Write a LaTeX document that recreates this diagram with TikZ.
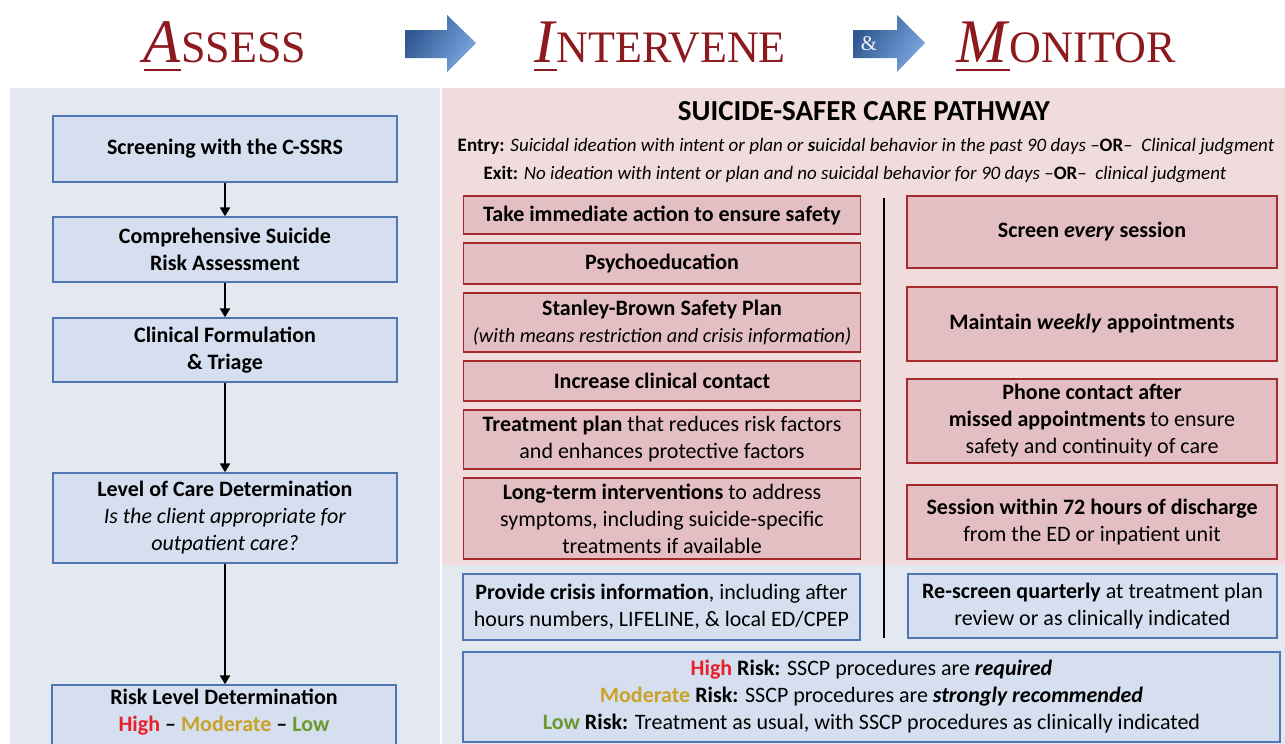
\documentclass[tikz,border=0pt]{standalone}
\usepackage{fontspec}
\setmainfont{Carlito}
\newfontfamily\hdr{Liberation Serif}
\usetikzlibrary{arrows.meta}
\definecolor{hdrred}{HTML}{8C1A1F}
\definecolor{bfill}{HTML}{D5DFEF}
\definecolor{bbord}{HTML}{4F77B3}
\definecolor{lpanel}{HTML}{E4E8F0}
\definecolor{ppanel}{HTML}{F1DCDD}
\definecolor{pfill}{HTML}{E3BEC2}
\definecolor{rbord}{HTML}{A52A2E}
\definecolor{arrdark}{HTML}{2F5690}
\definecolor{arrlight}{HTML}{7AA6DE}
\definecolor{hired}{HTML}{E8202A}
\definecolor{modgold}{HTML}{C9A227}
\definecolor{lowgreen}{HTML}{6A9A2E}
\newcommand{\hul}[1]{\setbox0\hbox{#1}\rlap{\raisebox{-9pt}{\rule{\wd0}{2.5pt}}}\box0}
\newcommand{\hword}[2]{{\fontsize{62}{62}\selectfont\hul{\textit{#1}}}{\fontsize{45}{45}\selectfont #2}}
\begin{document}
\begin{tikzpicture}[x=1pt,y=-1pt,
  txt/.style={align=center,font=\fontsize{22}{27}\selectfont,inner sep=0pt},
  lbox/.style={txt,draw=bbord,fill=bfill,line width=1.4pt},
  pbox/.style={txt,draw=rbord,fill=pfill,line width=1.4pt},
  hdrtxt/.style={anchor=base,inner sep=0pt,text=hdrred,font=\hdr},
  flow/.style={line width=2.8pt,-{Triangle[length=9pt,width=10pt]}},
  bigarrow/.style={left color=arrdark,right color=arrlight,shading angle=60}
]
\useasboundingbox (0,0) rectangle (1285,744);
\fill[white] (0,0) rectangle (1285,744);
% panels
\fill[lpanel] (10,88) rectangle (440,744);
\fill[ppanel] (442,88) rectangle (1285,565);
\fill[lpanel] (442,565) rectangle (1285,744);
% headers
\node[hdrtxt] (hA) at (225,62) {\scalebox{0.98}[1]{\hword{A}{SSESS}}};
\node[hdrtxt] (hI) at (660,62) {\scalebox{0.98}[1]{\hword{I}{NTERVENE}}};
\node[hdrtxt] (hM) at (1066,62) {\scalebox{0.98}[1]{\hword{M}{ONITOR}}};
\shade[bigarrow] (405,30) -- (447,30) -- (447,15) -- (476,43) -- (447,72) -- (447,58) -- (405,58) -- cycle;
\shade[bigarrow] (853,30) -- (897,30) -- (897,15) -- (925,43) -- (897,72) -- (897,58) -- (853,58) -- cycle;
\node[text=white!85!arrlight,font=\hdr\fontsize{21}{21}\selectfont,inner sep=0pt] (amp) at (869,44) {\&};
% left flow
\node[lbox,minimum width=344pt,minimum height=66pt] (b1) at (225,149) {\textbf{Screening with the C-SSRS}};
\node[lbox,minimum width=344pt,minimum height=65pt] (b2) at (225,249.5) {\textbf{Comprehensive Suicide}\\\textbf{Risk Assessment}};
\node[lbox,minimum width=344pt,minimum height=64pt] (b3) at (225,350) {\textbf{Clinical Formulation}\\\textbf{\& Triage}};
\node[lbox,minimum width=344pt,minimum height=90pt] (b4) at (225,518) {\textbf{Level of Care Determination}\\\textit{Is the client appropriate for}\\\textit{outpatient care?}};
\node[lbox,minimum width=344pt,minimum height=80pt] (b5) at (224,725) {};
\node[txt] (b5t) at (224,712) {\textbf{Risk Level Determination}\\\textbf{\textcolor{hired}{High} -- \textcolor{modgold}{Moderate} -- \textcolor{lowgreen}{Low}}};
\draw[flow] (b1.south) -- (b2.north);
\draw[flow] (b2.south) -- (b3.north);
\draw[flow] (b3.south) -- (b4.north);
\draw[flow] (b4.south) -- (b4.south |- b5.north);
% right panel title
\node[txt,font=\fontsize{29}{30}\selectfont\bfseries] (title) at (864,111) {SUICIDE-SAFER CARE PATHWAY};
\node[txt,font=\fontsize{19}{20}\selectfont] (entry) at (866,147) {\textbf{Entry:} \textit{Suicidal ideation with intent or plan or \textbf{s}uicidal behavior in the past 90 days} --\textbf{OR}--\ \ \textit{Clinical judgment}};
\node[txt,font=\fontsize{19}{20}\selectfont] (exit) at (855,174) {\textbf{Exit:} \textit{No ideation with intent or plan and no suicidal behavior for 90 days} --\textbf{OR}--\ \ \textit{clinical judgment}};
% intervene boxes
\node[pbox,minimum width=397pt,minimum height=38pt] (p1) at (662,215) {\textbf{Take immediate action to ensure safety}};
\node[pbox,minimum width=397pt,minimum height=41pt] (p2) at (662,263.5) {\textbf{Psychoeducation}};
\node[pbox,minimum width=397pt,minimum height=59pt] (p3) at (662,322.5) {\textbf{Stanley-Brown Safety Plan}\\{\fontsize{20.3}{27}\selectfont\textit{(with means restriction and crisis information)}}};
\node[pbox,minimum width=397pt,minimum height=40pt] (p4) at (662,381) {\textbf{Increase clinical contact}};
\node[pbox,minimum width=397pt,minimum height=59pt] (p5) at (662,439.5) {\textbf{Treatment plan} that reduces risk factors\\and enhances protective factors};
\node[pbox,minimum width=397pt,minimum height=81pt] (p6) at (662,518.5) {\textbf{Long-term interventions} to address\\symptoms, including suicide-specific\\treatments if available};
% monitor boxes
\node[pbox,minimum width=370pt,minimum height=72pt] (r1) at (1092,232) {\textbf{Screen \textit{every} session}};
\node[pbox,minimum width=370pt,minimum height=74pt] (r2) at (1092,324) {\textbf{Maintain \textit{weekly} appointments}};
\node[pbox,minimum width=370pt,minimum height=84pt] (r3) at (1092,421) {\textbf{Phone contact after}\\\textbf{missed appointments} to ensure\\safety and continuity of care};
\node[pbox,minimum width=370pt,minimum height=74pt] (r4) at (1092,522) {\textbf{Session within 72 hours of discharge}\\from the ED or inpatient unit};
% bottom blue boxes
\node[lbox,minimum width=397pt,minimum height=66pt] (c1) at (661.5,607) {\textbf{Provide crisis information}, including after\\hours numbers, LIFELINE, \& local ED/CPEP};
\node[lbox,minimum width=369pt,minimum height=64pt] (c2) at (1092.5,606) {\textbf{Re-screen quarterly} at treatment plan\\review or as clinically indicated};
\node[lbox,minimum width=817pt,minimum height=90pt] (risk) at (871.5,697) {\textbf{\textcolor{hired}{High} Risk:} SSCP procedures are \textbf{\textit{required}}\\\textbf{\textcolor{modgold}{Moderate} Risk:} SSCP procedures are \textbf{\textit{strongly recommended}}\\\textbf{\textcolor{lowgreen}{Low} Risk:} Treatment as usual, with SSCP procedures as clinically indicated};
% divider
\coordinate (d1) at (884,198);
\coordinate (d2) at (884,638);
\draw[line width=1.3pt] (d1) -- (d2);
\end{tikzpicture}
\end{document}
